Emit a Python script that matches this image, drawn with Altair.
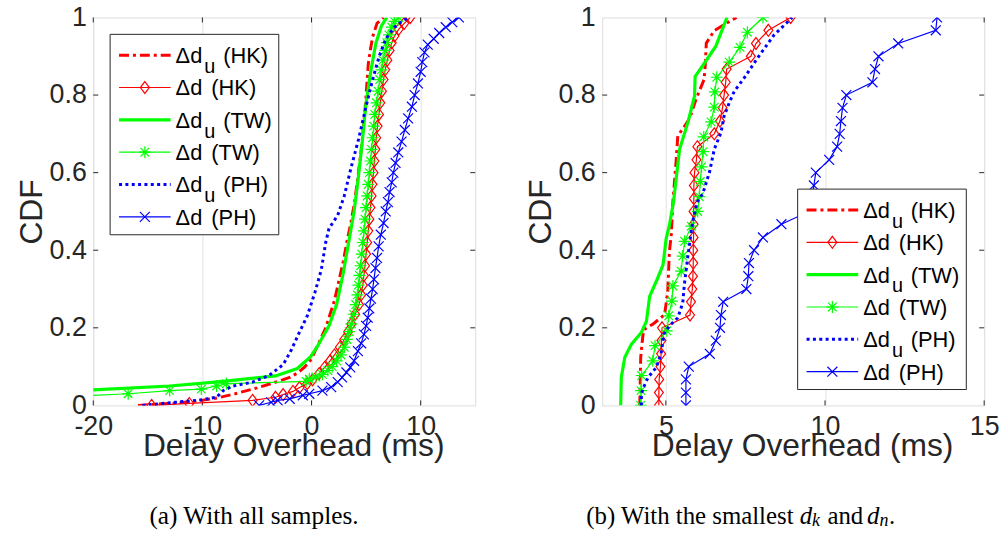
import altair as alt
import pandas as pd

W, H = 385, 391
FONT = "Liberation Sans"
SERIF = "Liberation Serif"
INK = "#262626"
RED, GREEN, BLUE = "#ff0000", "#00ff00", "#0000ff"

# ---------------- panel (a): all samples ----------------
A_HKU_X = [-15.9, -12.5, -10.25, -8.5, -7.0, -5.0, -3.5, -2.0, -1.2, -0.6, 0.0, 0.4, 0.9, 1.3, 1.7, 2.1, 2.5, 2.9, 3.3, 3.6, 3.95, 4.3, 4.6, 4.9, 5.05, 5.2, 5.35, 5.6, 6.0, 6.6]
A_HKU_Y = [0.0, 0.006, 0.012, 0.02, 0.03, 0.045, 0.058, 0.072, 0.085, 0.1, 0.12, 0.145, 0.175, 0.2, 0.235, 0.27, 0.32, 0.37, 0.43, 0.47, 0.524, 0.6, 0.67, 0.76, 0.82, 0.88, 0.91, 0.95, 0.985, 1.0]

A_HK_X = [-14.65, -11.2, -5.4, -3.3, -2.6, -1.7, -1.1, -0.4, 0.1, 0.7, 1.2, 1.7, 2.1, 2.6, 3.0, 3.35, 3.65, 4.0, 4.35, 4.55, 4.7, 4.8, 4.9, 5.0, 5.1, 5.2, 5.3, 5.4, 5.5, 5.58, 5.68, 5.76, 5.85, 5.93, 6.05, 6.18, 6.3, 6.45, 6.6, 6.75, 6.95, 7.15, 7.35, 7.6, 8.0, 8.5, 9.05]
A_HK_Y = [0.0, 0.005, 0.013, 0.021, 0.028, 0.036, 0.046, 0.056, 0.066, 0.082, 0.098, 0.115, 0.13, 0.15, 0.17, 0.19, 0.21, 0.235, 0.26, 0.285, 0.31, 0.335, 0.36, 0.39, 0.42, 0.45, 0.48, 0.51, 0.54, 0.57, 0.60, 0.63, 0.66, 0.69, 0.72, 0.75, 0.78, 0.81, 0.84, 0.865, 0.89, 0.915, 0.935, 0.952, 0.97, 0.985, 1.0]

A_TWU_X = [-25.0, -20.0, -13.0, -8.1, -3.3, -1.3, -0.1, 0.5, 1.0, 1.6, 2.3, 2.9, 3.4, 3.9, 4.3, 4.65, 5.0, 5.45, 5.9, 6.4, 6.9]
A_TWU_Y = [0.03, 0.04, 0.05, 0.062, 0.076, 0.095, 0.125, 0.15, 0.175, 0.205, 0.26, 0.34, 0.42, 0.5, 0.59, 0.68, 0.78, 0.865, 0.934, 0.978, 1.0]

A_TW_X = [-23.0, -16.8, -13.0, -10.1, -8.7, -7.8, -0.5, -0.2, 0.4, 1.0, 1.5, 1.9, 2.3, 2.7, 3.0, 3.25, 3.45, 3.65, 3.85, 4.05, 4.2, 4.3, 4.4, 4.5, 4.6, 4.7, 4.8, 4.9, 5.0, 5.1, 5.2, 5.3, 5.4, 5.5, 5.6, 5.7, 5.8, 5.95, 6.1, 6.25, 6.4, 6.55, 6.75, 6.9, 7.1, 7.35, 7.6, 8.0]
A_TW_Y = [0.022, 0.030, 0.038, 0.042, 0.050, 0.056, 0.062, 0.068, 0.073, 0.080, 0.09, 0.100, 0.115, 0.13, 0.15, 0.17, 0.19, 0.21, 0.235, 0.26, 0.285, 0.31, 0.335, 0.36, 0.39, 0.42, 0.45, 0.48, 0.51, 0.54, 0.57, 0.60, 0.63, 0.66, 0.69, 0.72, 0.75, 0.78, 0.81, 0.84, 0.865, 0.89, 0.915, 0.935, 0.955, 0.975, 0.99, 1.0]

A_PHU_X = [-15.5, -12.5, -10.2, -8.7, -8.1, -7.2, -5.4, -3.9, -2.6, -1.9, -1.2, -0.4, 0.3, 0.9, 1.3, 1.6, 2.4, 3.0, 3.6, 4.3, 4.95, 5.6, 6.2, 6.8, 7.6, 8.3, 8.9]
A_PHU_Y = [0.0, 0.008, 0.014, 0.021, 0.038, 0.05, 0.06, 0.077, 0.105, 0.14, 0.183, 0.23, 0.29, 0.35, 0.42, 0.456, 0.49, 0.54, 0.61, 0.685, 0.765, 0.84, 0.9, 0.945, 0.975, 0.99, 1.0]

A_PH_X = [-4.8, -3.7, -3.1, -2.0, -0.8, -0.2, 1.0, 1.8, 2.4, 2.8, 3.2, 3.55, 3.9, 4.25, 4.55, 4.8, 5.0, 5.15, 5.3, 5.45, 5.6, 5.72, 5.86, 6.0, 6.15, 6.35, 6.6, 6.8, 7.0, 7.15, 7.35, 7.5, 7.7, 7.95, 8.25, 8.55, 8.85, 9.2, 9.45, 9.75, 10.0, 10.15, 10.35, 10.65, 11.2, 11.7, 12.3, 12.9, 13.5]
A_PH_Y = [0.0, 0.008, 0.013, 0.017, 0.026, 0.030, 0.038, 0.047, 0.060, 0.072, 0.085, 0.098, 0.115, 0.14, 0.16, 0.183, 0.205, 0.226, 0.25, 0.275, 0.30, 0.325, 0.354, 0.38, 0.41, 0.44, 0.47, 0.50, 0.524, 0.55, 0.575, 0.60, 0.625, 0.652, 0.68, 0.71, 0.74, 0.77, 0.80, 0.83, 0.86, 0.885, 0.91, 0.93, 0.945, 0.96, 0.975, 0.988, 1.0]

# ---------------- panel (b): smallest d_k and d_n ----------------
B_HKU_X = [4.18, 4.21, 4.26, 4.30, 4.6, 4.96, 5.06, 5.11, 5.17, 5.22, 5.32, 5.375, 5.55, 5.75, 5.95, 6.2, 6.24, 6.27, 6.52, 6.9, 7.22]
B_HKU_Y = [0.0, 0.124, 0.166, 0.195, 0.21, 0.234, 0.294, 0.396, 0.44, 0.524, 0.627, 0.695, 0.715, 0.74, 0.79, 0.84, 0.88, 0.934, 0.966, 0.985, 1.0]

B_HK_X = [4.78, 4.78, 4.79, 4.83, 4.85, 4.86, 4.88, 5.76, 5.79, 5.83, 5.85, 5.86, 5.86, 5.87, 5.87, 5.87, 5.88, 5.88, 5.90, 5.96, 5.99, 6.52, 6.70, 6.78, 6.83, 6.88, 6.91, 7.67, 7.83, 8.22, 8.92]
B_HK_Y = [0.0, 0.033, 0.067, 0.1, 0.133, 0.167, 0.2, 0.233, 0.267, 0.3, 0.333, 0.367, 0.4, 0.433, 0.467, 0.5, 0.533, 0.567, 0.6, 0.633, 0.667, 0.7, 0.733, 0.767, 0.8, 0.833, 0.867, 0.9, 0.933, 0.967, 1.0]

B_TWU_X = [3.58, 3.60, 3.71, 3.92, 4.23, 4.39, 4.49, 4.70, 4.91, 5.01, 5.11, 5.24, 5.43, 5.69, 5.90, 5.92, 6.21, 6.57, 6.92]
B_TWU_Y = [0.0, 0.072, 0.124, 0.158, 0.188, 0.217, 0.281, 0.32, 0.362, 0.43, 0.464, 0.524, 0.66, 0.729, 0.797, 0.848, 0.882, 0.926, 1.0]

B_TW_X = [4.21, 4.22, 4.24, 4.59, 4.66, 5.03, 5.09, 5.19, 5.22, 5.48, 5.53, 5.59, 5.80, 6.00, 6.05, 6.08, 6.12, 6.17, 6.19, 6.42, 6.52, 6.54, 6.60, 6.99, 7.33, 7.56, 8.05]
B_TW_Y = [0.0, 0.038, 0.077, 0.115, 0.154, 0.192, 0.231, 0.269, 0.308, 0.346, 0.385, 0.423, 0.462, 0.5, 0.538, 0.577, 0.615, 0.654, 0.692, 0.731, 0.769, 0.808, 0.846, 0.885, 0.923, 0.962, 1.0]

B_PHU_X = [4.23, 4.23, 4.30, 4.44, 4.70, 4.85, 4.94, 5.11, 5.375, 5.53, 5.58, 5.69, 5.84, 5.98, 6.16, 6.37, 6.52, 6.73, 6.83, 6.99, 7.15, 7.46, 7.875, 8.40, 8.97]
B_PHU_Y = [0.0, 0.03, 0.047, 0.072, 0.098, 0.133, 0.184, 0.205, 0.226, 0.264, 0.311, 0.384, 0.473, 0.524, 0.546, 0.601, 0.66, 0.703, 0.746, 0.78, 0.81, 0.844, 0.895, 0.955, 1.0]

B_PH_X = [5.63, 5.63, 5.63, 5.72, 6.38, 6.57, 6.70, 6.73, 6.80, 7.53, 7.59, 7.61, 7.77, 8.05, 8.63, 9.50, 9.60, 9.65, 9.71, 10.13, 10.38, 10.46, 10.50, 10.55, 10.67, 11.49, 11.57, 11.68, 12.30, 13.48, 13.52]
B_PH_Y = [0.0, 0.033, 0.067, 0.1, 0.133, 0.167, 0.2, 0.233, 0.267, 0.3, 0.333, 0.367, 0.4, 0.433, 0.467, 0.5, 0.533, 0.567, 0.6, 0.633, 0.667, 0.7, 0.733, 0.767, 0.8, 0.833, 0.867, 0.9, 0.933, 0.967, 1.0]

Y_TICKS = [0, 0.2, 0.4, 0.6, 0.8, 1]
A_XTICKS = [-20, -10, 0, 10]
B_XTICKS = [5, 10, 15]

DIAMOND = "M0,-1L0.75,0L0,1L-0.75,0Z"
ASTER = "M-1,0L1,0M0,-1L0,1M-0.72,-0.72L0.72,0.72M-0.72,0.72L0.72,-0.72"
XMARK = "M-1,-1L1,1M-1,1L1,-1"

# style per series: colour, line width, dash, marker, marker size
STYLES = [
    (RED, 3.0, [10, 4, 3, 4], None, 0),
    (RED, 1.2, None, DIAMOND, 144),
    (GREEN, 3.2, None, None, 0),
    (GREEN, 1.2, None, ASTER, 144),
    (BLUE, 3.0, [3, 3.4], None, 0),
    (BLUE, 1.2, None, XMARK, 100),
]
LEGEND_TEXT = [("Δd", "u", "(HK)"), ("Δd", "", "(HK)"), ("Δd", "u", "(TW)"),
               ("Δd", "", "(TW)"), ("Δd", "u", "(PH)"), ("Δd", "", "(PH)")]


def frame(xs, ys):
    return pd.DataFrame({"x": xs, "y": ys, "i": list(range(len(xs)))})


ONE = pd.DataFrame({"k": [0]})


def panel(series, domain, xticks, leg_x, leg_y, captions):
    xscale = alt.Scale(domain=domain, nice=False, zero=False)
    yscale = alt.Scale(domain=[0, 1], nice=False, zero=False)
    xaxis = alt.Axis(values=xticks, grid=True, gridColor="#e3e3e3", gridWidth=1,
                     domain=False, ticks=False, labelFlush=False,
                     labelExpr="datum.value < 0 ? '-' + abs(datum.value) : '' + datum.value",
                     labelFont=FONT, labelFontSize=27,
                     labelColor=INK, labelPadding=8, title="Delay Overhead (ms)",
                     titleFont=FONT, titleFontSize=32, titleFontWeight="normal",
                     titleColor=INK, titleX=W / 2 + 9, titleY=41, titleBaseline="middle")
    yaxis = alt.Axis(values=Y_TICKS, grid=False, domain=False, ticks=False, labelFlush=False,
                     labelExpr="datum.value == 0 ? '0' : datum.value == 1 ? '1' : format(datum.value, '.1f')",
                     labelFont=FONT, labelFontSize=27, labelColor=INK, labelPadding=7,
                     title="CDF", titleFont=FONT, titleFontSize=32, titleFontWeight="normal",
                     titleColor=INK, titleX=-62, titleY=H / 2, titleBaseline="middle", titleAngle=270)
    X = alt.X("x:Q", scale=xscale, axis=xaxis)
    Y = alt.Y("y:Q", scale=yscale, axis=yaxis)

    layers = []
    # inward tick marks
    xt = pd.DataFrame({"x": xticks})
    yt = pd.DataFrame({"y": Y_TICKS[1:-1]})
    layers.append(alt.Chart(xt).mark_rule(color=INK, strokeWidth=1).encode(x=X, y=alt.value(H), y2=alt.value(H - 5)))
    layers.append(alt.Chart(xt).mark_rule(color=INK, strokeWidth=1).encode(x=X, y=alt.value(0), y2=alt.value(5)))
    layers.append(alt.Chart(yt).mark_rule(color=INK, strokeWidth=1).encode(y=Y, x=alt.value(0), x2=alt.value(5)))
    layers.append(alt.Chart(yt).mark_rule(color=INK, strokeWidth=1).encode(y=Y, x=alt.value(W - 5), x2=alt.value(W)))

    for (xs, ys), (col, lw, dash, shape, size) in zip(series, STYLES):
        df = frame(xs, ys)
        kw = dict(color=col, strokeWidth=lw, clip=True, strokeCap="butt")
        if dash:
            kw["strokeDash"] = dash
        layers.append(alt.Chart(df).mark_line(**kw).encode(x=X, y=Y, order="i:Q"))
        if shape:
            layers.append(alt.Chart(df).mark_point(shape=shape, size=size, filled=False, color=col,
                                                   strokeWidth=1.2, opacity=1, clip=True).encode(x=X, y=Y))

    # legend box
    bw, bh = 170, 202
    layers.append(alt.Chart(ONE).mark_rect(fill="white", stroke=INK, strokeWidth=1).encode(
        x=alt.value(leg_x), x2=alt.value(leg_x + bw), y=alt.value(leg_y), y2=alt.value(leg_y + bh)))
    for j, ((col, lw, dash, shape, size), (t1, sub, t2)) in enumerate(zip(STYLES, LEGEND_TEXT)):
        ry = leg_y + 21 + 32.6 * j
        kw = dict(color=col, strokeWidth=lw, strokeCap="butt")
        if dash:
            kw["strokeDash"] = dash
        layers.append(alt.Chart(ONE).mark_rule(**kw).encode(
            x=alt.value(leg_x + 9), x2=alt.value(leg_x + 61), y=alt.value(ry)))
        if shape:
            layers.append(alt.Chart(ONE).mark_point(shape=shape, size=size, filled=False, color=col,
                                                    strokeWidth=1.2, opacity=1).encode(
                x=alt.value(leg_x + 35), y=alt.value(ry)))
        tx = leg_x + 66
        layers.append(alt.Chart(ONE).mark_text(text=t1, align="left", baseline="middle", font=FONT,
                                               fontSize=22, color="black").encode(
            x=alt.value(tx), y=alt.value(ry + 1)))
        if sub:
            layers.append(alt.Chart(ONE).mark_text(text=sub, align="left", baseline="middle", font=FONT,
                                                   fontSize=20, color="black").encode(
                x=alt.value(tx + 29), y=alt.value(ry + 12)))
            off = 48
        else:
            off = 36
        layers.append(alt.Chart(ONE).mark_text(text=t2, align="left", baseline="middle", font=FONT,
                                               fontSize=22, color="black").encode(
            x=alt.value(tx + off), y=alt.value(ry + 1)))

    # caption (sub-figure label)
    for text, cx, dy, size, style, align in captions:
        layers.append(alt.Chart(ONE).mark_text(text=text, align=align, baseline="middle", font=SERIF,
                                               fontSize=size, fontStyle=style, color="black").encode(
            x=alt.value(cx), y=alt.value(H + 112 + dy)))

    return alt.layer(*layers).properties(width=W, height=H)


cap_a = [("(a) With all samples.", 162, 0, 25.5, "normal", "center")]
c0 = -16
cap_b = [
    ("(b) With the smallest", c0, 0, 25, "normal", "left"),
    ("d", c0 + 215, 0, 25, "italic", "left"),
    ("k", c0 + 227.5, 5, 18, "italic", "left"),
    ("and", c0 + 243, 0, 25, "normal", "left"),
    ("d", c0 + 283, 0, 25, "italic", "left"),
    ("n", c0 + 295.5, 5, 18, "italic", "left"),
    (".", c0 + 305, 0, 25, "normal", "left"),
]

left = panel([(A_HKU_X, A_HKU_Y), (A_HK_X, A_HK_Y), (A_TWU_X, A_TWU_Y),
              (A_TW_X, A_TW_Y), (A_PHU_X, A_PHU_Y), (A_PH_X, A_PH_Y)],
             [-20, 15], A_XTICKS, 17, 17, cap_a)
right = panel([(B_HKU_X, B_HKU_Y), (B_HK_X, B_HK_Y), (B_TWU_X, B_TWU_Y),
               (B_TW_X, B_TW_Y), (B_PHU_X, B_PHU_Y), (B_PH_X, B_PH_Y)],
              [3, 15], B_XTICKS, 197, 173, cap_b)

chart = alt.hconcat(left, right, spacing=48).properties(
    padding={"left": 15, "top": 0.5, "right": 5, "bottom": 0}
).configure_view(stroke=INK, strokeWidth=1, fill="white").configure(background="white")

chart.save("out.html", embed_options={"renderer": "svg", "actions": False})
